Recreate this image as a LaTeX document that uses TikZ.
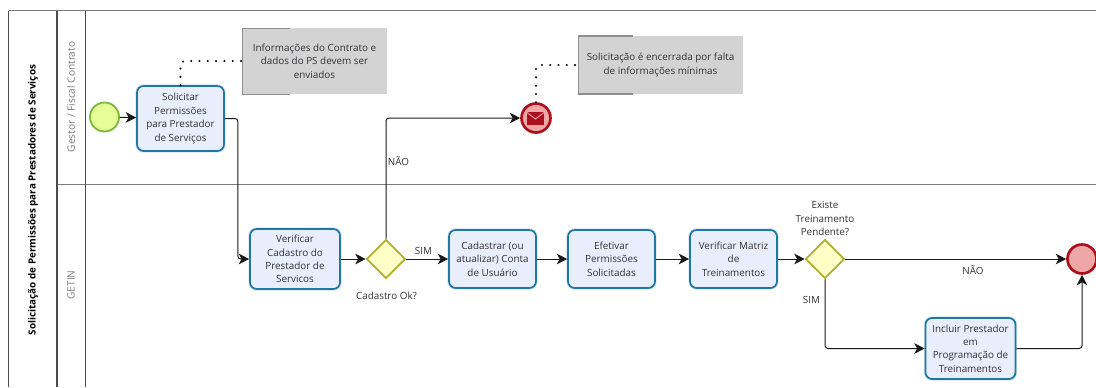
\documentclass[tikz,border=0pt]{standalone}
\usepackage{fontspec}
\setmainfont{Open Sans}
\usetikzlibrary{arrows.meta,shapes.geometric}
\definecolor{TxtC}{HTML}{333338}
\definecolor{LaneC}{HTML}{7A7A7A}
\definecolor{TaskF}{HTML}{E8EEFC}
\definecolor{TaskB}{HTML}{1F78A4}
\definecolor{TaskH}{HTML}{D5E6F2}
\definecolor{GateF}{HTML}{FFFFC8}
\definecolor{GateB}{HTML}{B0B030}
\definecolor{StartF}{HTML}{E6FF97}
\definecolor{StartB}{HTML}{7FB93C}
\definecolor{EndF}{HTML}{EFA6A6}
\definecolor{EndB}{HTML}{AE0F1C}
\definecolor{NoteF}{HTML}{D3D3D3}
\definecolor{NoteB}{HTML}{8F8F8F}
\def\px{0.75pt}
\tikzset{
  every node/.style={text=TxtC,font=\fontsize{7.4}{10.1}\selectfont},
  taskbox/.style={draw=TaskB,fill=TaskF,line width=1.3pt,rounded corners=5pt,align=center,inner sep=0pt,
    preaction={draw=TaskH,line width=2.6pt}},
  gatebox/.style={diamond,aspect=1,draw=GateB,fill=GateF,line width=1.3pt,inner sep=0pt,minimum width=39*\px,minimum height=39*\px},
  startev/.style={circle,draw=StartB,fill=StartF,line width=1.4pt,inner sep=0pt,minimum size=29*\px},
  endev/.style={circle,draw=EndB,fill=EndF,line width=2pt,inner sep=0pt,minimum size=29*\px},
  notebox/.style={fill=NoteF,align=center,inner sep=0pt},
  flow/.style={draw=black!90,line width=0.75pt,rounded corners=2.2pt,-{Stealth[length=7.8pt,width=8pt,inset=2.2pt]}},
  assoc/.style={draw=black,line width=1.7pt,line cap=round,dash pattern=on 0pt off 6.2pt,rounded corners=3pt},
  lanetxt/.style={text=LaneC,rotate=90,font=\fontsize{7.6}{10}\selectfont},
  pooltxt/.style={text=black,rotate=90,font=\fontsize{7.4}{10}\selectfont\bfseries},
  lane/.style={draw=LaneC,line width=0.8pt},
  poolline/.style={draw=black!70,line width=0.8pt}
}
\begin{document}
\begin{tikzpicture}[x=0.75pt,y=-0.75pt]
\useasboundingbox (0,0) rectangle (1096,387);
\fill[white] (0,0) rectangle (1096,387);
% pool and lanes
\draw[lane] (8.5,10.5) -- (1096,10.5);
\draw[lane] (57,184.5) -- (1096,184.5);
\draw[poolline] (8.5,387) -- (8.5,10.5);
\draw[poolline] (57,387) -- (57,10.5);
\draw[poolline] (85.5,387) -- (85.5,10.5);
\node[pooltxt] (pooltitle) at (33,200) {Solicitação de Permissões para Prestadores de Serviços};
\node[lanetxt] (lane1) at (71,97) {Gestor / Fiscal Contrato};
\node[lanetxt] (lane2) at (71,285) {GETIN};
% notes
\node[notebox,minimum width=144*\px,minimum height=66*\px] (n1) at (314.5,61) {Informações do Contrato e\\dados do PS devem ser\\enviados};
\draw[NoteB,line width=0.8pt] (290,28.5) -- (242.8,28.5) -- (242.8,94.5) -- (290,94.5);
\node[notebox,minimum width=165*\px,minimum height=58*\px] (n2) at (660.5,65) {Solicitação é encerrada por falta\\de informações mínimas};
\draw[NoteB,line width=0.8pt] (633,36) -- (578.3,36) -- (578.3,94) -- (633,94);
% events
\node[startev] (start) at (104.5,117) {};
\node[endev] (msg) at (536,118) {};
\fill[EndB] (527,112) rectangle (544,124.5);
\draw[EndF,line width=0.7pt] (527,112.5) -- (535.5,119) -- (544,112.5);
\node[endev] (finish) at (1082,259) {};
% tasks
\node[taskbox,minimum width=87*\px,minimum height=65*\px] (t1) at (180.5,118.5) {Solicitar\\Permissões\\para Prestador\\de Serviços};
\node[taskbox,minimum width=90*\px,minimum height=60*\px] (t2) at (295,259) {Verificar\\Cadastro do\\Prestador de\\Servicos};
\node[taskbox,minimum width=87*\px,minimum height=58*\px] (t3) at (492.5,259) {Cadastrar (ou\\atualizar) Conta\\de Usuário};
\node[taskbox,minimum width=87*\px,minimum height=58*\px] (t4) at (611.5,259) {Efetivar\\Permissões\\Solicitadas};
\node[taskbox,minimum width=87*\px,minimum height=58*\px] (t5) at (733.5,259) {Verificar Matriz\\de\\Treinamentos};
\node[taskbox,minimum width=90*\px,minimum height=61*\px] (t6) at (970.5,348.5) {Incluir Prestador\\em\\Programação de\\Treinamentos};
% gateways
\node[gatebox] (g1) at (386,259) {};
\node[gatebox] (g2) at (825,259) {};
% labels
\node (lb1) at (398.5,161) {NÃO};
\node (lb2) at (423.5,251) {SIM};
\node (lb3) at (386.5,295.5) {Cadastro Ok?};
\node[align=center] (lb4) at (825,218.5) {Existe\\Treinamento\\Pendente?};
\node (lb5) at (973,270) {NÃO};
\node (lb6) at (811.5,300) {SIM};
% flows
\draw[flow] (start) -- (t1);
\draw[flow] (t1.east) -- ++(13,0) |- (t2.west);
\draw[flow] (t2) -- (g1);
\draw[flow] (g1.north) |- (msg.west);
\draw[flow] (g1) -- (t3);
\draw[flow] (t3) -- (t4);
\draw[flow] (t4) -- (t5);
\draw[flow] (t5) -- (g2);
\draw[flow] (g2) -- (finish);
\draw[flow] (g2.south) |- (t6.west);
\draw[flow] (t6.east) -| (finish.south);
% annotations
\draw[assoc] (t1.north) |- (n1.west);
\draw[assoc] (msg.north) |- (n2.west);
\end{tikzpicture}
\end{document}
